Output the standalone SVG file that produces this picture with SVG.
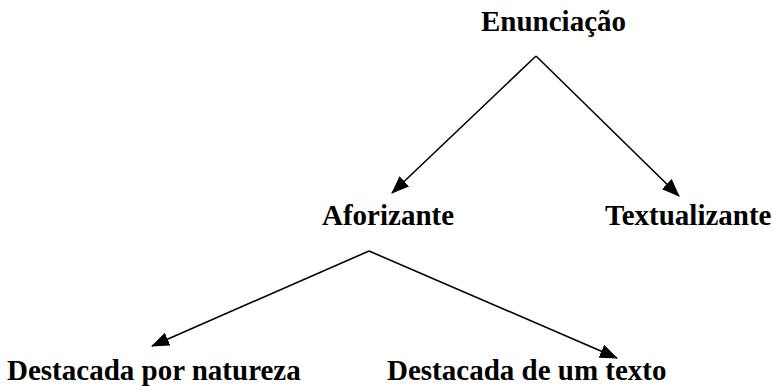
<svg xmlns="http://www.w3.org/2000/svg" width="777" height="386" viewBox="0 0 777 386">
<style>
.lbl{font-family:"Liberation Serif","Times New Roman",serif;font-weight:bold;font-size:29px;fill:#000}
.edge{stroke:#000;stroke-width:1.6;fill:none}
</style>
<defs>
<marker id="arr" markerUnits="userSpaceOnUse" markerWidth="18" markerHeight="14" viewBox="0 0 18 14" refX="17" refY="7" orient="auto">
<path d="M0,0 L18,7 L0,14 Z" fill="#000"/>
</marker>
</defs>
<rect width="777" height="386" fill="#fff"/>
<g id="connectors">
<line class="edge" x1="536" y1="56" x2="392" y2="193" marker-end="url(#arr)"/>
<line class="edge" x1="536" y1="56" x2="679" y2="196" marker-end="url(#arr)"/>
<line class="edge" x1="369" y1="251" x2="152" y2="346" marker-end="url(#arr)"/>
<line class="edge" x1="369" y1="251" x2="617" y2="358" marker-end="url(#arr)"/>
</g>
<g id="enunciacao"><text class="lbl" x="481" y="31">Enunciação</text></g>
<g id="aforizante"><text class="lbl" x="322" y="225">Aforizante</text></g>
<g id="textualizante"><text class="lbl" x="605" y="225">Textualizante</text></g>
<g id="destacada-natureza"><text class="lbl" x="7" y="380">Destacada por natureza</text></g>
<g id="destacada-texto"><text class="lbl" x="387" y="380">Destacada de um texto</text></g>
</svg>
